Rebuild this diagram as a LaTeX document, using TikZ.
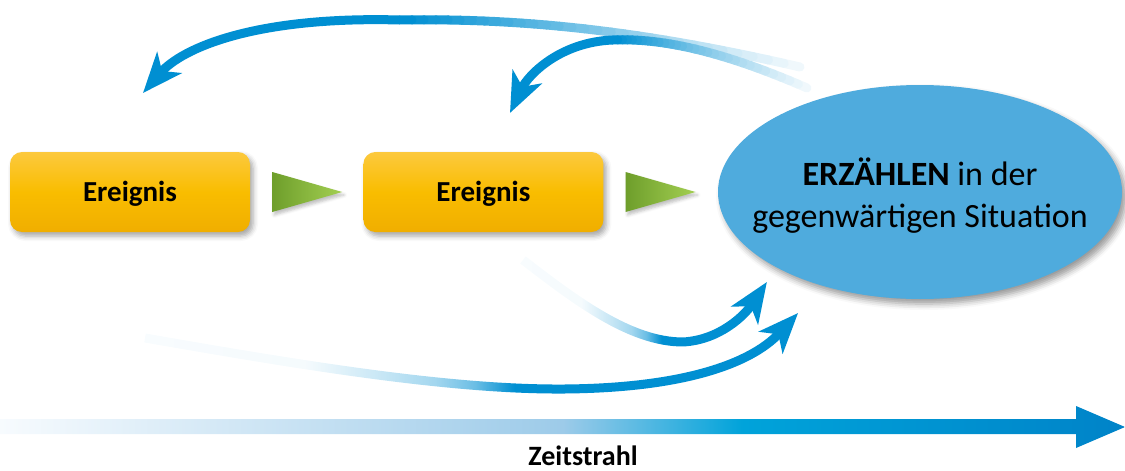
\documentclass[tikz,border=0pt]{standalone}
\usepackage{fontspec}
\setmainfont{Carlito}
\usetikzlibrary{positioning,calc,arrows.meta,shapes.geometric,shadows.blur,fadings}

\definecolor{boxtop}{HTML}{FCC93E}
\definecolor{boxmid}{HTML}{F9BD00}
\definecolor{boxbot}{HTML}{F0AE00}
\definecolor{greendark}{HTML}{6E9E2B}
\definecolor{greenlight}{HTML}{A3CF52}
\definecolor{nowblue}{HTML}{4FABDD}
\definecolor{flowblue}{HTML}{008FD2}
\definecolor{tlwhite}{HTML}{F7FBFE}
\definecolor{tllight}{HTML}{9DCBE9}
\definecolor{tlcyan}{HTML}{00A3DA}
\definecolor{tldark}{HTML}{0083C8}

\pgfdeclarehorizontalshading{timeshade}{100bp}{color(0bp)=(tlwhite); color(25bp)=(tlwhite); color(50bp)=(tllight); color(58bp)=(tlcyan); color(75bp)=(tldark); color(100bp)=(tldark)}
\pgfdeclarehorizontalshading{tailleft}{100bp}{color(0bp)=(black); color(37.5bp)=(white!4!black);
  color(43.25bp)=(white!22!black); color(47.25bp)=(white!36!black); color(50.25bp)=(white!58!black);
  color(53.25bp)=(white); color(100bp)=(white)}
\tikzfading[name=fade tail left, shading=tailleft]

\begin{document}
\begin{tikzpicture}[x=1pt,y=-1pt,
  ereignis/.style={rounded corners=12pt, minimum width=240pt, minimum height=80pt,
    top color=boxtop, bottom color=boxbot, middle color=boxmid,
    blur shadow={shadow xshift=3pt, shadow yshift=-4pt, shadow blur radius=5pt, shadow opacity=35},
    text height=19pt, text depth=0pt, font=\bfseries\fontsize{29}{34}\selectfont},
  pointer/.style={left color=greendark, right color=greenlight,
    blur shadow={shadow xshift=2pt, shadow yshift=-3pt, shadow blur radius=3pt, shadow opacity=25}},
  erz/.style={ellipse, fill=nowblue, inner sep=0pt, minimum width=404pt, minimum height=214pt,
    blur shadow={shadow xshift=4pt, shadow yshift=-5pt, shadow blur radius=6pt, shadow opacity=40}},
  flow/.style={line width=9pt, flowblue, -{Stealth[length=40pt,width=32pt,inset=11pt]}},
  tail/.style={line width=9pt, line cap=round}]
\useasboundingbox (0,0) rectangle (1125,471);

% events
\node[ereignis] (ev1) at (130,192) {Ereignis};
\node[ereignis, right=113pt of ev1] (ev2) {Ereignis};
\foreach \e in {ev1,ev2}
  \shade[pointer] ($(\e.east)+(22,-20)$) -- ++(70,20) -- ++(-70,20) -- cycle;

% present
\node[erz] (now) at (920,192) {};
\node[align=center, font=\fontsize{34}{42}\selectfont] (nowtext) at ($(now.center)+(0,4)$)
  {\textbf{ERZÄHLEN} in der\\gegenwärtigen Situation};

% free ends of the arrows
\coordinate (backA) at (800,67);
\coordinate (backB) at (807,88);
\coordinate (tipA) at (143,93);
\coordinate (tipB) at (510,113);
\coordinate (fromA) at (523,260);
\coordinate (fromB) at (145,338);
\coordinate (toA) at (767,282);
\coordinate (toB) at (798,313);

% looking back: faded tails, then solid heads
\foreach \i in {0,...,30}
  \path (backA) .. controls (640,30) and (520,18) .. (400,20) coordinate[pos=\i/30] (a\i)
        (backB) .. controls (720,50) and (660,38) .. (613,40) coordinate[pos=\i/30] (b\i);
\foreach \i [evaluate=\i as \j using int(\i+1), evaluate=\i as \p using int(6+94*\i/29)] in {0,...,29}
  \draw[tail, flowblue!\p!white] (a\i) -- (a\j) (b\i) -- (b\j);
\draw[flow] (a30) .. controls (255,16) and (182,48) .. (tipA);
\draw[flow] (b30) .. controls (560,42) and (528,75) .. (tipB);

% coming to the present
\draw[flow, path fading=fade tail left] (fromA) .. controls (575,300) and (630,342) .. (683,342)
  .. controls (720,340) and (745,315) .. (toA);
\draw[flow, path fading=fade tail left] (fromB) .. controls (300,365) and (450,390) .. (565,389)
  .. controls (680,388) and (750,365) .. (toB);

% time line
\shade[shading=timeshade] (0,419) -- (1076,419) -- (1076,406) -- (1125,427) -- (1076,448)
  -- (1076,434) -- (0,434) -- cycle;
\node[font=\bfseries\fontsize{28}{34}\selectfont, anchor=base, inner sep=1pt] (zs) at (583,465) {Zeitstrahl};
\end{tikzpicture}
\end{document}
